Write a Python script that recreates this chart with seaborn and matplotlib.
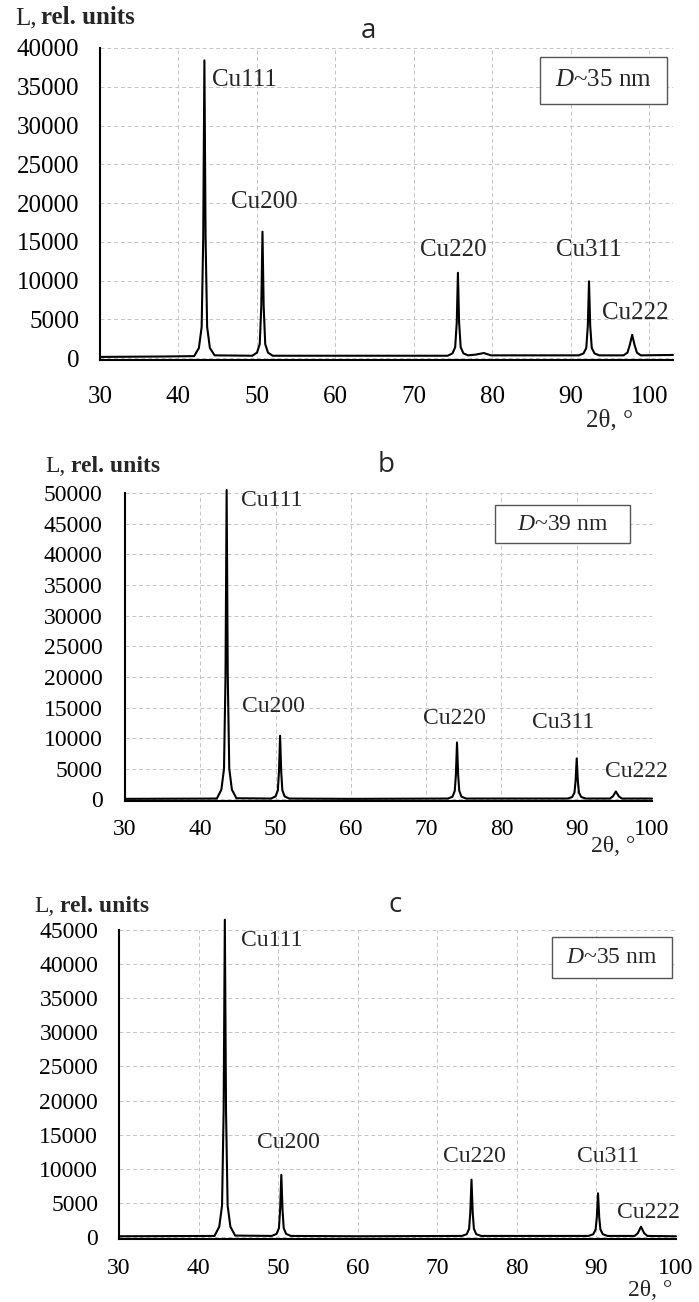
import matplotlib
matplotlib.use("Agg")
import matplotlib.pyplot as plt
import seaborn as sns
import pandas as pd
from matplotlib.patches import Rectangle

# --- data (2theta in degrees, intensity in rel. units) ---
a_x = [30, 38, 42.0, 42.6, 42.95, 43.15, 43.3, 43.45, 43.65, 44.0, 44.6,
       49.4, 50.0, 50.35, 50.55, 50.7, 50.85, 51.05, 51.4, 52.0, 62,
       74.3, 74.9, 75.25, 75.45, 75.6, 75.75, 75.95, 76.3, 76.9, 77.9, 78.9, 79.8, 86,
       91.0, 91.6, 91.95, 92.15, 92.3, 92.45, 92.65, 93.0, 93.6,
       96.7, 97.2, 97.5, 97.8, 98.1, 98.4, 98.9, 103]
a_y = [150, 200, 250, 1300, 4000, 15500, 38400, 15500, 4000, 1300, 350,
       300, 700, 1800, 6700, 16300, 6700, 1800, 700, 300, 300,
       300, 600, 1400, 4600, 11000, 4600, 1400, 600, 350, 450, 650, 350, 350,
       350, 600, 1300, 4200, 9900, 4200, 1300, 600, 350,
       350, 700, 1700, 3000, 1700, 700, 350, 400]

b_x = [30, 42.2, 42.8, 43.15, 43.35, 43.5, 43.65, 43.85, 44.2, 44.8,
       49.4, 50.0, 50.3, 50.45, 50.6, 50.75, 50.9, 51.2, 51.8, 60,
       72.9, 73.5, 73.8, 73.95, 74.1, 74.25, 74.4, 74.7, 75.3,
       88.8, 89.4, 89.7, 89.85, 90.0, 90.15, 90.3, 90.6, 91.2,
       94.4, 94.8, 95.2, 95.6, 96.0, 100]
b_y = [100, 150, 1600, 5000, 20000, 50500, 20000, 5000, 1600, 200,
       150, 500, 1500, 4500, 10400, 4500, 1500, 500, 150, 100,
       150, 450, 1400, 4000, 9300, 4000, 1400, 450, 150,
       150, 400, 1100, 3000, 6700, 3000, 1100, 400, 150,
       150, 500, 1300, 500, 150, 150]

c_x = [30, 42.0, 42.6, 42.95, 43.15, 43.3, 43.45, 43.65, 44.0, 44.6,
       49.2, 49.8, 50.1, 50.25, 50.4, 50.55, 50.7, 51.0, 51.6, 60,
       73.1, 73.7, 74.0, 74.15, 74.3, 74.45, 74.6, 74.9, 75.5,
       89.0, 89.6, 89.9, 90.05, 90.2, 90.35, 90.5, 90.8, 91.4,
       94.8, 95.2, 95.6, 96.0, 96.4, 100]
c_y = [100, 150, 1500, 4600, 18500, 46500, 18500, 4600, 1500, 200,
       150, 450, 1300, 4000, 9100, 4000, 1300, 450, 150, 100,
       150, 400, 1200, 3600, 8400, 3600, 1200, 400, 150,
       150, 400, 1100, 2900, 6400, 2900, 1100, 400, 150,
       150, 550, 1500, 550, 150, 100]

peak_names = ["Cu111", "Cu200", "Cu220", "Cu311", "Cu222"]
panel_letters = ["a", "b", "c"]
sizes = ["D~35 nm", "D~39 nm", "D~35 nm"]
y_tops = [40000, 50000, 45000]
x_ticks = [30, 40, 50, 60, 70, 80, 90, 100]

sns.set_style("white")
plt.rcParams['font.family'] = ['Liberation Serif', 'DejaVu Serif']
plt.rcParams['mathtext.fontset'] = 'custom'
plt.rcParams['mathtext.it'] = 'Liberation Serif:italic'
plt.rcParams['mathtext.rm'] = 'Liberation Serif'

W, H = 699, 1302
fig = plt.figure(figsize=(W / 100, H / 100), dpi=100)

def px(x, y):
    return x / W, 1 - y / H

# layout per panel, pixel coords: axes box, label spots
layout = [
    dict(box=(100, 673, 48, 360), xmax=103, ymin=-250, fs=18, xpad=14, ypad=8,
         ylab=(15, 18), title=(368, 31), theta=(610, 420),
         dbox=(540, 667, 57, 104),
         names=[(212, 80), (231, 202), (420, 250), (556, 250), (602, 313)]),
    dict(box=(125, 652, 493, 801), xmax=100, ymin=-250, fs=17, xpad=8, ypad=9,
         ylab=(45, 467), title=(386, 465), theta=(613, 847),
         dbox=(495, 630, 505, 543),
         names=[(241, 500), (242, 707), (423, 718), (532, 722), (605, 771)]),
    dict(box=(119, 676, 930, 1239), xmax=100, ymin=-300, fs=17, xpad=9, ypad=8,
         ylab=(34, 907), title=(395, 905), theta=(650, 1290),
         dbox=(552, 672, 937, 978),
         names=[(241, 940), (257, 1143), (443, 1157), (577, 1157), (617, 1212)]),
]

series = [(a_x, a_y), (b_x, b_y), (c_x, c_y)]

for i, (xs, ys) in enumerate(series):
    L = layout[i]
    x0, x1, y0, y1 = L["box"]
    ax = fig.add_axes([x0 / W, 1 - y1 / H, (x1 - x0) / W, (y1 - y0) / H])
    df = pd.DataFrame({"two_theta": xs, "intensity": ys})
    sns.lineplot(data=df, x="two_theta", y="intensity", ax=ax, color="black",
                 lw=1.5, estimator=None, sort=False)
    ax.lines[-1].set_clip_on(False)
    ax.set_xlim(30, L["xmax"])
    ax.set_ylim(L["ymin"], y_tops[i])
    ax.set_xticks(x_ticks)
    ax.set_yticks(range(0, y_tops[i] + 1, 5000))
    ax.set_xlabel("")
    ax.set_ylabel("")
    ax.grid(True, color="#c4c4c4", ls=(0, (4, 3)), lw=0.7)
    for s in ["top", "right"]:
        ax.spines[s].set_visible(False)
    for s in ["left", "bottom"]:
        ax.spines[s].set_color("black")
        ax.spines[s].set_linewidth(1.5)
    ax.tick_params(axis="x", direction="out", length=5, width=1.2, labelsize=L["fs"],
                   pad=L["xpad"], colors="black")
    ax.tick_params(axis="y", direction="out", length=7, width=1.2, labelsize=L["fs"],
                   pad=L["ypad"], colors="black")
    ax.set_facecolor("white")

    # size box
    bx0, bx1, by0, by1 = L["dbox"]
    fig.patches.append(Rectangle(px(bx0, by1), (bx1 - bx0) / W, (by1 - by0) / H,
                                 transform=fig.transFigure, fill=True, facecolor="white",
                                 edgecolor="#555555", lw=1.0, zorder=5))
    d_text = "$D$" + sizes[i][1:]
    fig.text(*px((bx0 + bx1) / 2, (by0 + by1) / 2), d_text, ha="center", va="center",
             fontsize=L["fs"], zorder=6)

    # peak names
    for name, (lx, ly) in zip(peak_names, L["names"]):
        fig.text(*px(lx, ly), name, ha="left", va="center", fontsize=L["fs"])

    # axis captions
    yx, yy = L["ylab"]
    fig.text(*px(yx, yy), "L,", ha="left", va="center", fontsize=L["fs"])
    fig.text(*px(yx + 26, yy), "rel. units", ha="left", va="center",
             fontsize=L["fs"], fontweight="bold")
    fig.text(*px(*L["title"]), panel_letters[i], ha="center", va="center",
             fontsize=20, family=["Open Sans", "DejaVu Sans"])
    fig.text(*px(*L["theta"]), "2θ, °", ha="center", va="center", fontsize=L["fs"])

fig.savefig("out.png", dpi=100, facecolor="white")
